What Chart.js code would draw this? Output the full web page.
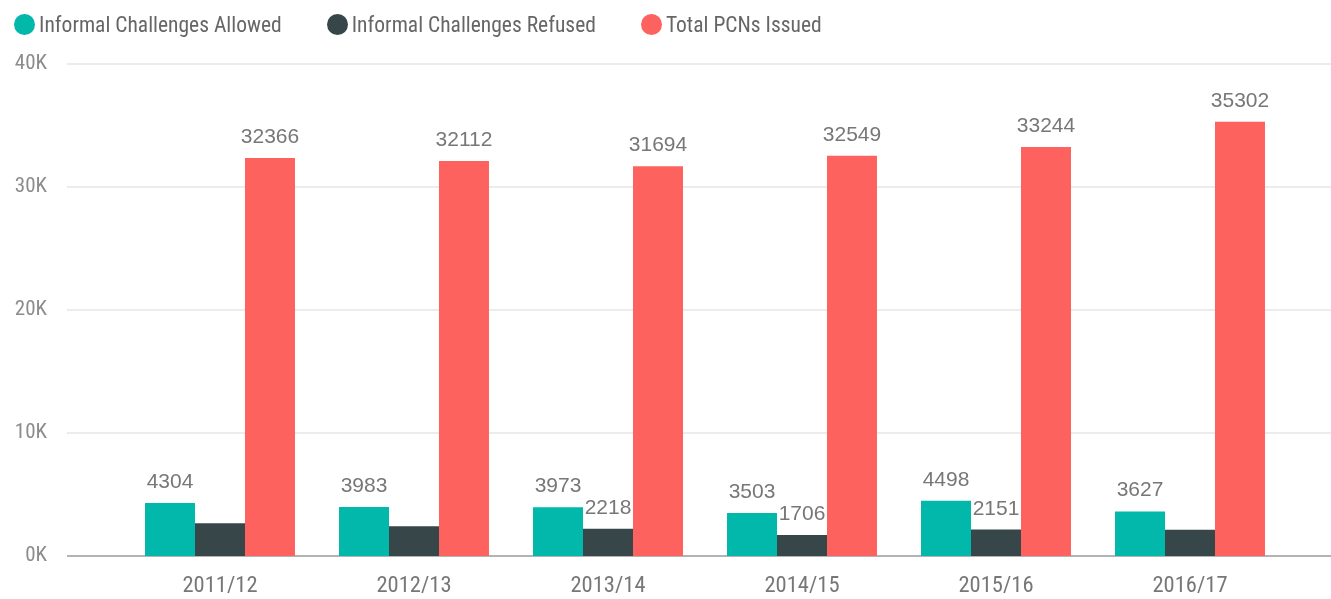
<!DOCTYPE html>
<html>
<head>
<meta charset="utf-8">
<script src="https://cdn.jsdelivr.net/npm/chart.js@4.4.1/dist/chart.umd.min.js"></script>
<style>
  html, body { margin: 0; padding: 0; background: #fff; }
  #wrap { position: relative; width: 1331px; height: 599px; }
  #legend {
    position: absolute; left: 14px; top: 12px;
    display: flex; align-items: center;
    font-family: "Liberation Sans Narrow", "Roboto Condensed", "DejaVu Sans Condensed", sans-serif;
    font-size: 21.5px; color: #666;
  }
  .item { display: flex; align-items: center; margin-right: 45px; }
  .dot { width: 21px; height: 21px; border-radius: 50%; margin-right: 4px; }
</style>
</head>
<body>
<div id="wrap">
  <canvas id="chart" width="1331" height="599"></canvas>
  <div id="legend"></div>
</div>
<script>
const categories = ["2011/12", "2012/13", "2013/14", "2014/15", "2015/16", "2016/17"];
const allowed = [4304, 3983, 3973, 3503, 4498, 3627];
const refused = [2660, 2415, 2218, 1706, 2151, 2140];
const totalPCNs = [32366, 32112, 31694, 32549, 33244, 35302];
// labels Power BI dropped because they collide with the neighbouring one
const refusedLabelShown = [false, false, true, true, true, false];

const seriesNames = ["Informal Challenges Allowed", "Informal Challenges Refused", "Total PCNs Issued"];
const colors = ["#01B8AA", "#374649", "#FD625E"];

const narrow = '"Liberation Sans Narrow", "Roboto Condensed", "DejaVu Sans Condensed", sans-serif';

// html legend
const legend = document.getElementById("legend");
seriesNames.forEach(function (name, i) {
  const item = document.createElement("div");
  item.className = "item";
  item.innerHTML = '<span class="dot" style="background:' + colors[i] + '"></span><span>' + name + '</span>';
  legend.appendChild(item);
});

// gridlines run wider than the plot area, like the Power BI visual
const gridPlugin = {
  id: "fullGrid",
  beforeDatasetsDraw(chart) {
    const ctx = chart.ctx;
    const y = chart.scales.y;
    ctx.save();
    y.ticks.forEach(function (t) {
      const py = Math.round(y.getPixelForValue(t.value));
      ctx.beginPath();
      if (t.value === 0) {
        ctx.strokeStyle = "#b3b3b3";
        ctx.lineWidth = 2;
      } else {
        ctx.strokeStyle = "#e6e6e6";
        ctx.lineWidth = 1.5;
      }
      ctx.moveTo(67, py);
      ctx.lineTo(1331, py);
      ctx.stroke();
    });
    ctx.restore();
  }
};

const labelPlugin = {
  id: "valueLabels",
  afterDatasetsDraw(chart) {
    const ctx = chart.ctx;
    ctx.save();
    ctx.font = '21px "Liberation Sans", Arial, sans-serif';
    ctx.fillStyle = "#777";
    ctx.textAlign = "center";
    ctx.textBaseline = "alphabetic";
    chart.data.datasets.forEach(function (ds, di) {
      const meta = chart.getDatasetMeta(di);
      meta.data.forEach(function (bar, i) {
        if (di === 1 && !refusedLabelShown[i]) return;
        ctx.fillText(String(ds.data[i]), bar.x, bar.y - 15);
      });
    });
    ctx.restore();
  }
};

const config = {
  type: "bar",
  data: {
    labels: categories,
    datasets: [
      { label: seriesNames[0], data: allowed, backgroundColor: colors[0] },
      { label: seriesNames[1], data: refused, backgroundColor: colors[1] },
      { label: seriesNames[2], data: totalPCNs, backgroundColor: colors[2] }
    ]
  },
  options: {
    responsive: false,
    animation: false,
    devicePixelRatio: 1,
    layout: { padding: { top: 64, right: 44, left: 0, bottom: 0 } },
    datasets: { bar: { categoryPercentage: 0.773, barPercentage: 1.0 } },
    plugins: {
      legend: { display: false },
      tooltip: { enabled: false },
      title: { display: false }
    },
    scales: {
      x: {
        grid: { display: false, drawTicks: false },
        border: { display: false },
        ticks: {
          color: "#777",
          font: { family: narrow, size: 22.5 },
          padding: 17,
          maxRotation: 0
        },
        afterFit: function (s) { s.height = 43; }
      },
      y: {
        min: 0,
        max: 40000,
        grid: { display: false, drawTicks: false },
        border: { display: false },
        ticks: {
          stepSize: 10000,
          color: "#8c8c8c",
          font: { family: narrow, size: 21 },
          padding: 76,
          callback: function (v) { return (v / 1000) + "K"; }
        },
        afterFit: function (s) {
          s.width = 123;
          s.paddingTop = 0;
          s.paddingBottom = 0;
        }
      }
    }
  },
  plugins: [gridPlugin, labelPlugin]
};

new Chart(document.getElementById("chart").getContext("2d"), config);
</script>
</body>
</html>
